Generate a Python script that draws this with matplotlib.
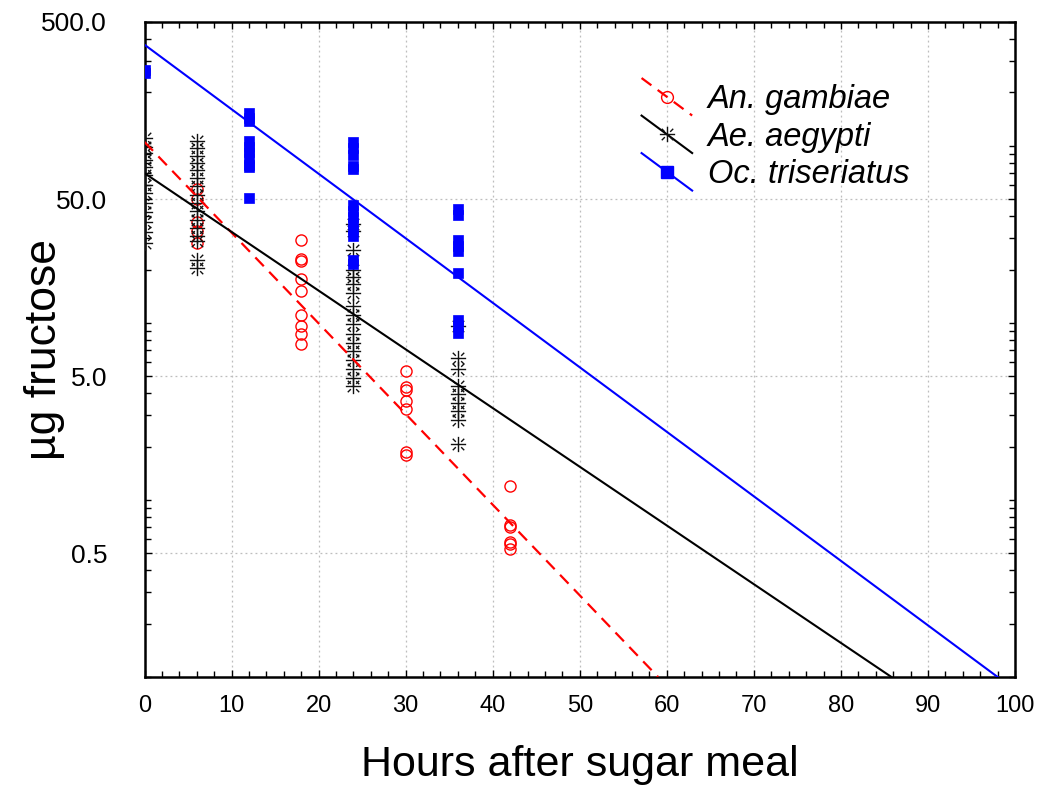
import numpy as np
import matplotlib
matplotlib.use("Agg")
import matplotlib.pyplot as plt
from matplotlib.lines import Line2D
from matplotlib.path import Path
from matplotlib.legend_handler import HandlerLine2D
from matplotlib.ticker import FixedLocator, LogLocator, NullFormatter, FixedFormatter, MultipleLocator

plt.rcParams['font.family'] = ['Liberation Sans', 'DejaVu Sans']

# ---------------- data ----------------
# An. gambiae (red open circles)
an_x = [6, 6, 6, 6, 6,
        18, 18, 18, 18, 18, 18, 18, 18, 18,
        30, 30, 30, 30, 30, 30, 30,
        42, 42, 42, 42, 42, 42]
an_y = [57, 50, 37, 33, 28.3,
        29.5, 22.8, 22.2, 17.7, 15.1, 11.0, 9.56, 8.66, 7.63,
        5.32, 4.34, 4.19, 3.60, 3.24, 1.86, 1.80,
        1.20, 0.725, 0.70, 0.575, 0.56, 0.53]

# Ae. aegypti (black asterisks)
ae_x = [0] * 13 + [6] * 16 + [24] * 17 + [36] * 9
ae_y = [111, 98, 91.6, 83.5, 76.2, 68.8, 60.4, 54.4, 47.8, 42.5, 36.9, 32.4, 28.4,
        106, 97.3, 87.1, 80.1, 73.3, 65.8, 59.2, 53.0, 47.6, 42.6, 38.3, 34.4, 30.9, 28.9, 22.7, 20.4,
        36, 32.9, 25.9, 20.0, 18.2, 16.5, 14.7, 12.4, 11.1, 9.8, 8.6, 7.7, 6.9, 6.2, 5.5, 4.9, 4.4,
        9.6, 6.34, 5.5, 4.4, 3.97, 3.53, 3.18, 2.84, 2.06]

# Oc. triseriatus (blue filled squares)
oc_x = [0] * 2 + [12] * 10 + [24] * 13 + [36] * 9
oc_y = [269, 256,
        154, 144, 138, 107, 98, 91.8, 84.8, 78.2, 75.5, 51,
        105.6, 97.7, 89.2, 77.2, 73.6, 46.4, 42.8, 39.7, 36.7, 33.9, 31.0, 22.7, 21.6,
        44.2, 40.9, 29.5, 27.3, 25.6, 19.1, 10.4, 9.6, 8.8]

# fitted lines (end points)
an_line_x = [0, 59.0]
an_line_y = [105, 0.1]
ae_line_x = [0, 85.8]
ae_line_y = [70, 0.1]
oc_line_x = [0, 98.0]
oc_line_y = [372, 0.1]

labels = ["An. gambiae", "Ae. aegypti", "Oc. triseriatus"]
xticks = [0, 10, 20, 30, 40, 50, 60, 70, 80, 90, 100]
yticks = [0.5, 5, 50, 500]
ytick_labels = ["0.5", "5.0", "50.0", "500.0"]

# ---------------- figure ----------------
fig = plt.figure(figsize=(10.45, 7.88), dpi=100)
ax = fig.add_axes([0.1383, 0.1409, 0.8330, 0.8312])
ax.set_yscale('log')
ax.set_xlim(0, 100)
ax.set_ylim(0.1, 500)

# asterisk marker: full + with broken diagonals
M, L = Path.MOVETO, Path.LINETO
verts = [(0, -1), (0, 1), (-1, 0), (1, 0),
         (0.35, 0.35), (0.75, 0.75), (-0.35, -0.35), (-0.75, -0.75),
         (0.35, -0.35), (0.75, -0.75), (-0.35, 0.35), (-0.75, 0.75)]
codes = [M, L] * 6
aster = Path(verts, codes)

red = '#ff0000'
blue = '#0000ff'
dash = (0, (5.5, 3.5))

ax.plot(an_x, an_y, ls='none', marker='o', ms=8, mfc='none', mec=red, mew=1.0, zorder=3)
ax.plot(ae_x, ae_y, ls='none', marker=aster, ms=11, color='#111111', mew=1.0, zorder=4)
ax.plot(oc_x, oc_y, ls='none', marker='s', ms=7.5, mfc=blue, mec=blue, mew=0.5, zorder=5)

ax.plot(an_line_x, an_line_y, color=red, lw=1.6, ls=dash, zorder=6)
ax.plot(ae_line_x, ae_line_y, color='black', lw=1.5, zorder=6)
ax.plot(oc_line_x, oc_line_y, color=blue, lw=1.5, zorder=6)

# ticks
ax.xaxis.set_major_locator(FixedLocator(xticks))
ax.xaxis.set_minor_locator(MultipleLocator(2))
ax.yaxis.set_major_locator(FixedLocator(yticks))
ax.yaxis.set_major_formatter(FixedFormatter(ytick_labels))
ax.yaxis.set_minor_locator(LogLocator(base=10, subs=np.arange(1, 10), numticks=20))
ax.yaxis.set_minor_formatter(NullFormatter())

ax.tick_params(axis='both', which='both', direction='in', top=True, right=True, colors='black')
ax.tick_params(axis='both', which='major', length=5, width=1.0)
ax.tick_params(axis='both', which='minor', length=4, width=1.0)
ax.tick_params(axis='x', which='major', labelsize=17, pad=13)
ax.tick_params(axis='y', which='major', labelsize=19, pad=27)

for s in ax.spines.values():
    s.set_linewidth(1.8)

ax.grid(True, which='major', ls=(0, (1.5, 2.5)), color='#bdbdbd', lw=0.9, zorder=0)
ax.set_axisbelow(True)

ax.set_xlabel("Hours after sugar meal", fontsize=31, labelpad=20)
ax.set_ylabel("µg fructose", fontsize=32)
ax.yaxis.set_label_coords(-0.091, 0.5)


class SlantHandler(HandlerLine2D):
    def create_artists(self, legend, orig_handle, xdescent, ydescent, width, height, fontsize, trans):
        arts = super().create_artists(legend, orig_handle, xdescent, ydescent, width, height, fontsize, trans)
        line = arts[0]
        xd = line.get_xdata()
        yd = line.get_ydata()
        dy = height * 0.82
        x0, x1 = xd[0], xd[-1]
        line.set_data([x0, 0.5 * (x0 + x1), x1], [yd[0] + dy, yd[0], yd[0] - dy])
        line.set_markevery([1])
        return arts


h1 = Line2D([], [], color=red, lw=1.6, ls=dash, marker='o', ms=8.5, mfc='none', mec=red, mew=1.0)
h2 = Line2D([], [], color='black', lw=1.5, marker=aster, ms=11, mec='#111111', mew=1.0)
h3 = Line2D([], [], color=blue, lw=1.5, marker='s', ms=8, mfc=blue, mec=blue)
leg = ax.legend([h1, h2, h3], labels, loc='upper left', bbox_to_anchor=(0.571, 0.905),
                frameon=False, numpoints=1, handlelength=1.55,
                handletextpad=0.47, labelspacing=0.2, borderpad=0, borderaxespad=0,
                prop={'style': 'italic', 'size': 23.5},
                handler_map={Line2D: SlantHandler(numpoints=1)})

fig.savefig("out.png", dpi=100)
